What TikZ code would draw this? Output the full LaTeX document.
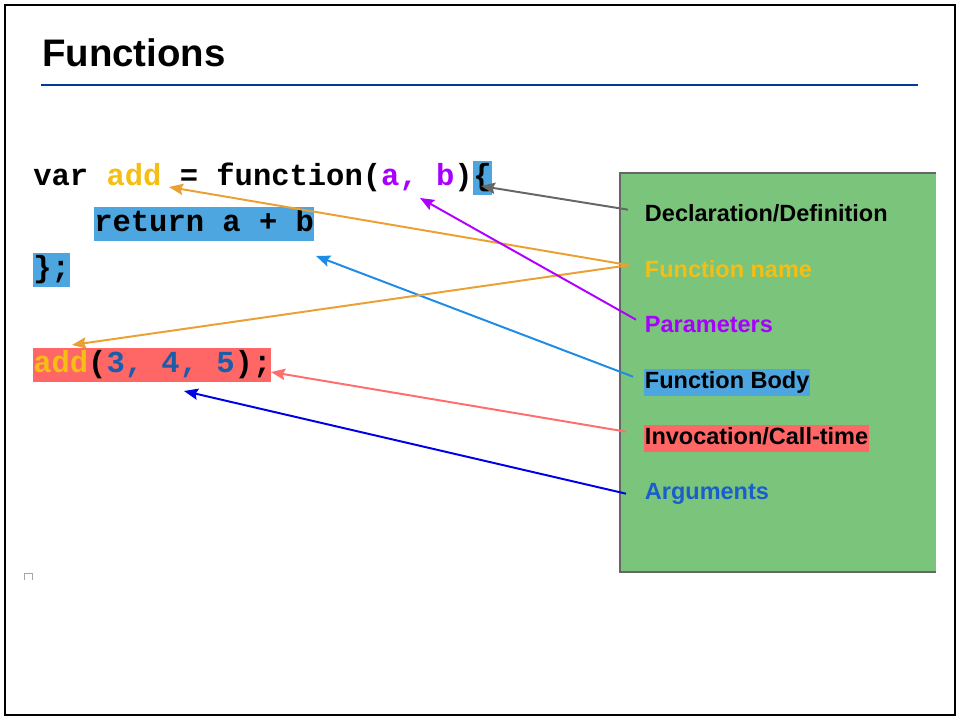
\documentclass[tikz,border=0pt]{standalone}
\usepackage{fontspec}
\setmainfont{Liberation Sans}
\newfontfamily\codefont{Liberation Mono}
\usetikzlibrary{arrows.meta}

\definecolor{namecol}{HTML}{F5BE14}
\definecolor{paramcol}{HTML}{A800FF}
\definecolor{argcol}{HTML}{1C5DA8}
\definecolor{argtxt}{HTML}{1A5ECC}
\definecolor{hlblue}{HTML}{4DA6DF}
\definecolor{hlred}{HTML}{FF6666}
\definecolor{panelgreen}{HTML}{7BC47B}
\definecolor{rulecol}{HTML}{003C96}
\definecolor{arrgray}{HTML}{666666}
\definecolor{arrorange}{HTML}{EBA034}
\definecolor{arrpurple}{HTML}{B000FF}
\definecolor{arrblue}{HTML}{1E8BE6}
\definecolor{arrred}{HTML}{FF6E6E}
\definecolor{arrdark}{HTML}{0000E6}

\tikzset{
  code/.style={font=\codefont\bfseries\fontsize{21.7}{24}\selectfont, inner sep=0pt,
    text height=17.8pt, text depth=6.4pt, anchor=base west},
  lbl/.style={font=\bfseries\fontsize{16.7}{20}\selectfont, inner xsep=0.5pt, inner ysep=0pt,
    text height=14pt, text depth=5pt, anchor=base west},
  arr/.style={-{Stealth[length=10pt,width=8pt,inset=1.5pt]}, line width=1.4pt},
}

\begin{document}
\begin{tikzpicture}[x=0.025cm, y=-0.025cm]
  \useasboundingbox (0,0) rectangle (960,720);
  \draw[black, line width=0.8pt] (5,5) rectangle (955,715);

  % title
  \node[font=\bfseries\fontsize{27.3}{30}\selectfont, anchor=base west, inner sep=0pt] (title) at (42,67) {Functions};
  \draw[rulecol, line width=1.5pt] (41,85) -- (918,85);

  % legend panel
  \fill[panelgreen] (620,173) rectangle (936,572);
  \draw[arrgray, line width=1.4pt] (936,173) -- (620,173) -- (620,572) -- (936,572);

  % code lines
  \node[code] (declline) at (33,186) {var \textcolor{namecol}{add} = function(\textcolor{paramcol}{a, b})};
  \node[code, fill=hlblue] (declbrace) at (declline.base east) {\{};
  \node[code, fill=hlblue] (body) at (94,232) {return a + b};
  \node[code, fill=hlblue] (closing) at (33,278) {\};};
  \node[code, fill=hlred] (call) at (33,373) {\textcolor{namecol}{add}(\textcolor{argcol}{3, 4, 5});};

  % legend labels
  \node[lbl, text=black] (lbldecl) at (644,222) {Declaration/Definition};
  \node[lbl, text=namecol] (lblname) at (644,277.5) {Function name};
  \node[lbl, text=paramcol] (lblparams) at (644,333) {Parameters};
  \node[lbl, text=black, fill=hlblue] (lblbody) at (644,389) {Function Body};
  \node[lbl, text=black, fill=hlred] (lblinvoke) at (644,445) {Invocation/Call-time};
  \node[lbl, text=argtxt] (lblargs) at (644,500) {Arguments};

  % arrow targets
  \coordinate (tipbrace) at (481,186);
  \coordinate (tipadd) at (169,187);
  \coordinate (tipcall) at (72,345);
  \coordinate (tipparams) at (420,198);
  \coordinate (tipbody) at (316,256);
  \coordinate (tipinvoke) at (271,372);
  \coordinate (tipargs) at (184,391);

  \draw[arr, arrgray] ([shift={(-16,-6)}]lbldecl.west) -- (tipbrace);
  \draw[arr, arrblue] ([shift={(-11,-6)}]lblbody.west) -- (tipbody);
  \draw[arr, arrorange] ([shift={(-15,-6)}]lblname.west) -- (tipadd);
  \draw[arr, arrorange] ([shift={(-15,-6)}]lblname.west) -- (tipcall);
  \draw[arr, arrpurple] ([shift={(-8,-7)}]lblparams.west) -- (tipparams);
  \draw[arr, arrred] ([shift={(-18,-7)}]lblinvoke.west) -- (tipinvoke);
  \draw[arr, arrdark] ([shift={(-18,0)}]lblargs.west) -- (tipargs);

  % stray mark
  \draw[gray!70, line width=0.5pt] (24,580) -- (24,573) -- (32,573) -- (32,580);
\end{tikzpicture}
\end{document}
